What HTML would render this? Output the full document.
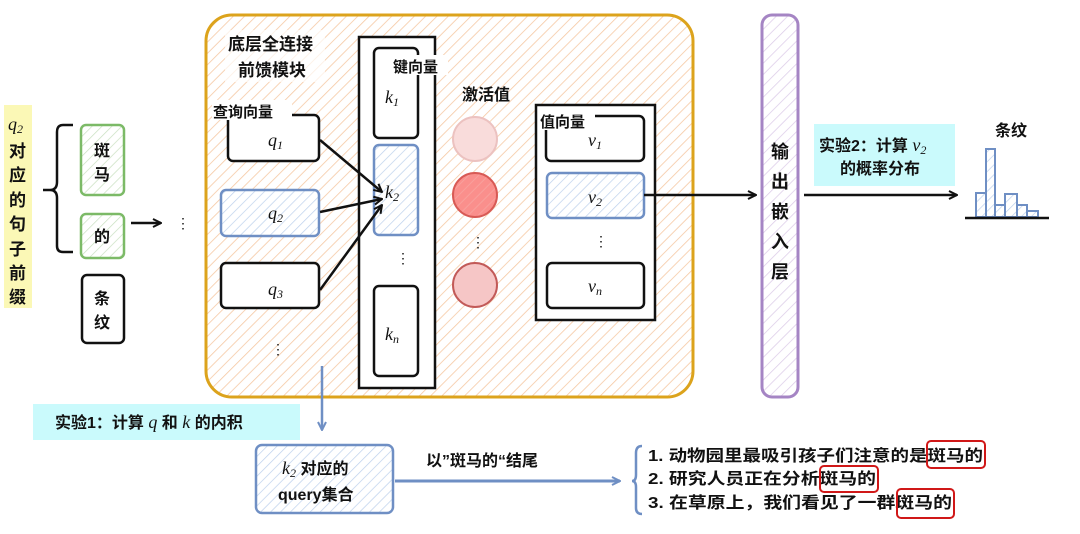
<!DOCTYPE html>
<html><head><meta charset="utf-8"><style>
html,body{margin:0;padding:0;background:#fff;}
svg{display:block;}
text{font-family:"Liberation Sans","Noto Sans CJK SC",sans-serif;fill:#111;}
.cj{font-weight:bold;}
.m{font-family:"Liberation Serif","Noto Serif CJK SC",serif;font-style:italic;}
</style></head><body>
<svg width="1080" height="534" viewBox="0 0 1080 534" xmlns="http://www.w3.org/2000/svg">
<defs>
<pattern id="ho" width="8" height="8" patternUnits="userSpaceOnUse" patternTransform="rotate(45)"><rect width="8" height="8" fill="#fff"/><line x1="0" y1="0" x2="0" y2="8" stroke="#f6c9a4" stroke-width="1.6"/></pattern>
<pattern id="hb" width="7" height="7" patternUnits="userSpaceOnUse" patternTransform="rotate(45)"><rect width="7" height="7" fill="#fff"/><line x1="0" y1="0" x2="0" y2="7" stroke="#bcd0ec" stroke-width="1.4"/></pattern>
<pattern id="hg" width="7" height="7" patternUnits="userSpaceOnUse" patternTransform="rotate(45)"><rect width="7" height="7" fill="#fff"/><line x1="0" y1="0" x2="0" y2="7" stroke="#c8e0c0" stroke-width="1.4"/></pattern>
<pattern id="hp" width="8" height="8" patternUnits="userSpaceOnUse" patternTransform="rotate(45)"><rect width="8" height="8" fill="#fff"/><line x1="0" y1="0" x2="0" y2="8" stroke="#dccbe8" stroke-width="1.5"/></pattern>
<pattern id="hr" width="7" height="7" patternUnits="userSpaceOnUse" patternTransform="rotate(45)"><rect width="7" height="7" fill="#fa8f8c"/><line x1="0" y1="0" x2="0" y2="7" stroke="#f7a7a3" stroke-width="1.4"/></pattern>
<marker id="ar" markerWidth="10" markerHeight="10" refX="9" refY="5" orient="auto" markerUnits="userSpaceOnUse"><path d="M1,1 L9,5 L1,9" fill="none" stroke="#111" stroke-width="2"/></marker>
<marker id="ab" markerWidth="10" markerHeight="10" refX="9" refY="5" orient="auto" markerUnits="userSpaceOnUse"><path d="M1,1 L9,5 L1,9" fill="none" stroke="#6f8fc4" stroke-width="2"/></marker>
</defs>

<!-- left label -->
<rect x="4" y="105" width="28" height="203" fill="#fbf8b6"/>
<text class="m" x="8" y="130" font-size="18">q<tspan font-size="12" dy="3">2</tspan></text>
<g class="cj" font-size="17">
<text x="9" y="157">对</text><text x="9" y="181">应</text><text x="9" y="206">的</text><text x="9" y="230">句</text><text x="9" y="255">子</text><text x="9" y="279">前</text><text x="9" y="303">缀</text>
</g>
<path d="M73,125 L63,125 Q57,125 57,132 L57,182 Q57,190 50,190 L43,190 M50,190 Q57,190 57,198 L57,246 Q57,252 63,252 L73,252" fill="none" stroke="#111" stroke-width="2.5"/>
<rect x="81" y="125" width="43" height="70" rx="5" fill="url(#hg)" stroke="#7cba67" stroke-width="2.5"/>
<text class="cj" x="94" y="156" font-size="16">斑</text><text class="cj" x="94" y="180" font-size="16">马</text>
<rect x="81" y="214" width="43" height="44" rx="5" fill="url(#hg)" stroke="#7cba67" stroke-width="2.5"/>
<text class="cj" x="94" y="242" font-size="16">的</text>
<rect x="82" y="275" width="42" height="68" rx="5" fill="#fff" stroke="#111" stroke-width="2.5"/>
<text class="cj" x="94" y="304" font-size="16">条</text><text class="cj" x="94" y="328" font-size="16">纹</text>
<line x1="131" y1="223" x2="161" y2="223" stroke="#111" stroke-width="2.5" marker-end="url(#ar)"/>
<text x="176" y="228" font-size="14">⋮</text>

<!-- main box -->
<rect x="206" y="15" width="487" height="382" rx="26" fill="url(#ho)" stroke="#dca31c" stroke-width="3"/>
<rect x="225" y="30" width="100" height="52" fill="#fff" opacity="0.7"/>
<text class="cj" x="228" y="50" font-size="17">底层全连接</text>
<text class="cj" x="238" y="76" font-size="17">前馈模块</text>

<rect x="228" y="115" width="91" height="46" rx="5" fill="#fff" stroke="#111" stroke-width="2.5"/>
<rect x="212" y="100" width="80" height="20" fill="#fff"/>
<text class="cj" x="213" y="117" font-size="15">查询向量</text>
<text class="m" x="268" y="146" font-size="18">q<tspan font-size="12" dy="3">1</tspan></text>
<rect x="221" y="190" width="98" height="46" rx="5" fill="url(#hb)" stroke="#6f8fc4" stroke-width="2.5"/>
<text class="m" x="268" y="219" font-size="18">q<tspan font-size="12" dy="3">2</tspan></text>
<rect x="221" y="263" width="98" height="45" rx="5" fill="#fff" stroke="#111" stroke-width="2.5"/>
<text class="m" x="268" y="295" font-size="18">q<tspan font-size="12" dy="3">3</tspan></text>
<text x="271" y="354" font-size="14">⋮</text>

<rect x="359" y="37" width="76" height="351" fill="#fff" stroke="#111" stroke-width="2.5"/>
<rect x="374" y="48" width="44" height="90" rx="5" fill="#fff" stroke="#111" stroke-width="2.5"/>
<rect x="392" y="55" width="56" height="20" fill="#fff"/>
<text class="cj" x="393" y="72" font-size="15">键向量</text>
<text class="m" x="385" y="103" font-size="18">k<tspan font-size="12" dy="3">1</tspan></text>
<rect x="374" y="145" width="44" height="90" rx="5" fill="url(#hb)" stroke="#6f8fc4" stroke-width="2.5"/>
<text class="m" x="385" y="198" font-size="18">k<tspan font-size="12" dy="3">2</tspan></text>
<text x="396" y="263" font-size="14">⋮</text>
<rect x="374" y="286" width="44" height="90" rx="5" fill="#fff" stroke="#111" stroke-width="2.5"/>
<text class="m" x="385" y="340" font-size="18">k<tspan font-size="12" dy="3">n</tspan></text>

<line x1="320" y1="140" x2="382" y2="192" stroke="#111" stroke-width="2.5" marker-end="url(#ar)"/>
<line x1="320" y1="212" x2="382" y2="199" stroke="#111" stroke-width="2.5" marker-end="url(#ar)"/>
<line x1="320" y1="290" x2="382" y2="205" stroke="#111" stroke-width="2.5" marker-end="url(#ar)"/>

<text class="cj" x="462" y="100" font-size="16">激活值</text>
<circle cx="475" cy="139" r="22" fill="#f9dcdb" stroke="#ecc2c0" stroke-width="2"/>
<circle cx="475" cy="195" r="22" fill="url(#hr)" stroke="#d85a55" stroke-width="2"/>
<text x="471" y="247" font-size="14">⋮</text>
<circle cx="475" cy="285" r="22" fill="#f6c6c6" stroke="#c25a58" stroke-width="2"/>

<rect x="536" y="105" width="119" height="215" fill="#fff" stroke="#111" stroke-width="2.5"/>
<rect x="546" y="116" width="98" height="45" rx="5" fill="#fff" stroke="#111" stroke-width="2.5"/>
<rect x="539" y="112" width="56" height="18" fill="#fff"/>
<text class="cj" x="540" y="127" font-size="15">值向量</text>
<text class="m" x="588" y="146" font-size="18">v<tspan font-size="12" dy="3">1</tspan></text>
<rect x="547" y="173" width="97" height="45" rx="5" fill="url(#hb)" stroke="#6f8fc4" stroke-width="2.5"/>
<text class="m" x="588" y="203" font-size="18">v<tspan font-size="12" dy="3">2</tspan></text>
<text x="594" y="246" font-size="14">⋮</text>
<rect x="547" y="263" width="97" height="45" rx="5" fill="#fff" stroke="#111" stroke-width="2.5"/>
<text class="m" x="588" y="292" font-size="18">v<tspan font-size="12" dy="3">n</tspan></text>

<line x1="644" y1="195" x2="756" y2="195" stroke="#111" stroke-width="2.5" marker-end="url(#ar)"/>

<!-- purple bar -->
<rect x="762" y="15" width="36" height="382" rx="10" fill="url(#hp)" stroke="#a585c4" stroke-width="3"/>
<g class="cj" font-size="18">
<text x="771" y="158">输</text><text x="771" y="188">出</text><text x="771" y="218">嵌</text><text x="771" y="248">入</text><text x="771" y="278">层</text>
</g>
<line x1="804" y1="195" x2="957" y2="195" stroke="#111" stroke-width="2.5" marker-end="url(#ar)"/>
<rect x="814" y="124" width="141" height="62" fill="#cafafc"/>
<text class="cj" x="819" y="151" font-size="16">实验2：计算 <tspan class="m" font-weight="normal" font-size="18">v</tspan><tspan class="m" font-weight="normal" font-size="12" dy="3">2</tspan></text>
<text class="cj" x="840" y="174" font-size="16">的概率分布</text>
<text class="cj" x="995" y="136" font-size="16">条纹</text>
<g fill="url(#hb)" stroke="#6f8fc4" stroke-width="2">
<rect x="976" y="193" width="10" height="24"/><rect x="986" y="149" width="9" height="68"/><rect x="995" y="205" width="10" height="12"/><rect x="1005" y="194" width="12" height="23"/><rect x="1017" y="205" width="10" height="12"/><rect x="1027" y="211" width="11" height="6"/>
</g>
<line x1="965" y1="218" x2="1049" y2="218" stroke="#111" stroke-width="2.5"/>

<!-- bottom -->
<line x1="322" y1="366" x2="322" y2="430" stroke="#6f8fc4" stroke-width="2.5" marker-end="url(#ab)"/>
<rect x="33" y="404" width="267" height="36" fill="#cafafc"/>
<text class="cj" x="55" y="428" font-size="16">实验1：计算 <tspan class="m" font-weight="normal" font-size="18">q</tspan> 和 <tspan class="m" font-weight="normal" font-size="18">k</tspan> 的内积</text>

<rect x="256" y="445" width="137" height="68" rx="6" fill="url(#hb)" stroke="#6f8fc4" stroke-width="2.5"/>
<text class="cj" x="282" y="474" font-size="16"><tspan class="m" font-weight="normal" font-size="18">k</tspan><tspan class="m" font-weight="normal" font-size="12" dy="3">2</tspan><tspan dy="-3"> 对应的</tspan></text>
<text class="cj" x="278" y="500" font-size="16">query集合</text>
<text class="cj" x="426" y="466" font-size="16">以”斑马的“结尾</text>
<line x1="395" y1="481" x2="620" y2="481" stroke="#6f8fc4" stroke-width="3" marker-end="url(#ab)"/>
<path d="M642,446 Q636,446 636,453 L636,475 Q636,481 632,481 Q636,481 636,487 L636,508 Q636,514 642,514" fill="none" stroke="#6f8fc4" stroke-width="2.5"/>
<g class="cj" font-size="16">
<text x="648" y="461" textLength="335" lengthAdjust="spacingAndGlyphs">1. 动物园里最吸引孩子们注意的是斑马的</text>
<text x="648" y="484" textLength="228" lengthAdjust="spacingAndGlyphs">2. 研究人员正在分析斑马的</text>
<text x="648" y="508" textLength="304" lengthAdjust="spacingAndGlyphs">3. 在草原上，我们看见了一群斑马的</text>
</g>
<g fill="none" stroke="#d01818" stroke-width="2">
<rect x="927" y="441" width="58" height="27" rx="4"/>
<rect x="820" y="466" width="58" height="26" rx="4"/>
<rect x="897" y="489" width="57" height="29" rx="4"/>
</g>
</svg>
</body></html>
